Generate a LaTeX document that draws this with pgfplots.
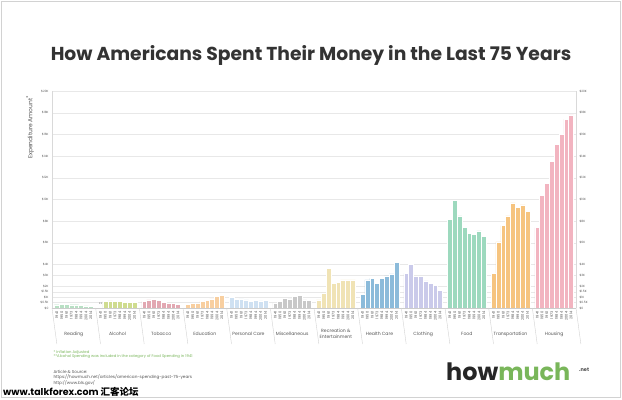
\documentclass[border=0pt]{standalone}
\usepackage{fontspec}
\setmainfont{Poppins}
\newfontfamily\cjk{Noto Sans CJK SC}
\usepackage{pgfplots}
\pgfplotsset{compat=1.18}
\definecolor{cReading}{HTML}{B8E0C4}
\definecolor{cAlcohol}{HTML}{CFDC8F}
\definecolor{cTobacco}{HTML}{E2A8B2}
\definecolor{cEducation}{HTML}{F8CFA0}
\definecolor{cPersonal}{HTML}{CFE1F2}
\definecolor{cMisc}{HTML}{C8C8C8}
\definecolor{cRec}{HTML}{F0E3B5}
\definecolor{cHealth}{HTML}{8CBBDA}
\definecolor{cClothing}{HTML}{CACAEA}
\definecolor{cFood}{HTML}{9DD9BE}
\definecolor{cTrans}{HTML}{F6C47F}
\definecolor{cHousing}{HTML}{F2B4C0}
\definecolor{txt}{HTML}{555555}
\definecolor{hmgreen}{HTML}{79B65A}
\begin{document}
\begin{tikzpicture}[x=1bp,y=1bp]
\useasboundingbox (0,0) rectangle (622,399);
\fill[white] (0,0) rectangle (622,399);
\draw[gray!35] (1.5,1.5) rectangle (620.5,397.5);
\node[font=\fontsize{18.8}{18.8}\selectfont\bfseries, text=black!80] at (311,344) {How Americans Spent Their Money in the Last 75 Years};
\node[rotate=90, anchor=east, font=\fontsize{6}{6}\selectfont, text=txt] at (30,307) {Expenditure Amount\textsuperscript{*}};
\begin{axis}[
  at={(52bp,91bp)}, anchor=south west, scale only axis,
  width=524bp, height=217bp,
  xmin=-1, xmax=107, ymin=0, ymax=20,
  axis line style={draw=none},
  major tick length=0pt,
  ytick={0,0.5,1,1.5,2,3,4,6,8,10,12,14,16,18,20},
  yticklabels={\$0,\$0.5K,\$1K,\$1.5K,\$2K,\$3K,\$4K,\$6K,\$8K,\$10K,\$12K,\$14K,\$16K,\$18K,\$20K},
  yticklabel style={font=\fontsize{3}{3}\selectfont, text=txt},
  ymajorgrids, grid style={gray!18, line width=0.4pt},
  xtick={0,...,106},
  xticklabels={1941,1950,1961,1973,1984,1994,2004,2014,,
               1941,1950,1961,1973,1984,1994,2004,2014,,
               1941,1950,1961,1973,1984,1994,2004,2014,,
               1941,1950,1961,1973,1984,1994,2004,2014,,
               1941,1950,1961,1973,1984,1994,2004,2014,,
               1941,1950,1961,1973,1984,1994,2004,2014,,
               1941,1950,1961,1973,1984,1994,2004,2014,,
               1941,1950,1961,1973,1984,1994,2004,2014,,
               1941,1950,1961,1973,1984,1994,2004,2014,,
               1941,1950,1961,1973,1984,1994,2004,2014,,
               1941,1950,1961,1973,1984,1994,2004,2014,,
               1941,1950,1961,1973,1984,1994,2004,2014},
  xticklabel style={rotate=90, anchor=east, font=\fontsize{3.6}{3.6}\selectfont, text=txt},
  clip=false,
]
\addplot[ybar, bar width=1, bar shift=0pt, draw=white, line width=0.5pt, fill=cReading] coordinates {(0,0.3)(1,0.35)(2,0.35)(3,0.3)(4,0.3)(5,0.25)(6,0.2)(7,0.15)};
\addplot[ybar, bar width=1, bar shift=0pt, draw=white, line width=0.5pt, fill=cAlcohol] coordinates {(10,0.6)(11,0.65)(12,0.6)(13,0.6)(14,0.55)(15,0.5)(16,0.55)};
\addplot[ybar, bar width=1, bar shift=0pt, draw=white, line width=0.5pt, fill=cTobacco] coordinates {(18,0.6)(19,0.75)(20,0.8)(21,0.7)(22,0.55)(23,0.45)(24,0.45)(25,0.35)};
\addplot[ybar, bar width=1, bar shift=0pt, draw=white, line width=0.5pt, fill=cEducation] coordinates {(27,0.35)(28,0.4)(29,0.45)(30,0.6)(31,0.7)(32,0.85)(33,1.05)(34,1.15)};
\addplot[ybar, bar width=1, bar shift=0pt, draw=white, line width=0.5pt, fill=cPersonal] coordinates {(36,1.0)(37,0.8)(38,0.85)(39,0.75)(40,0.6)(41,0.7)(42,0.65)(43,0.7)};
\addplot[ybar, bar width=1, bar shift=0pt, draw=white, line width=0.5pt, fill=cMisc] coordinates {(45,0.45)(46,0.6)(47,0.9)(48,0.85)(49,1.1)(50,1.15)(51,0.75)(52,0.7)};
\addplot[ybar, bar width=1, bar shift=0pt, draw=white, line width=0.5pt, fill=cRec] coordinates {(54,0.75)(55,1.4)(56,3.65)(57,2.3)(58,2.35)(59,2.6)(60,2.6)(61,2.6)};
\addplot[ybar, bar width=1, bar shift=0pt, draw=white, line width=0.5pt, fill=cHealth] coordinates {(63,1.25)(64,2.6)(65,2.75)(66,2.3)(67,2.7)(68,2.95)(69,3.15)(70,4.2)};
\addplot[ybar, bar width=1, bar shift=0pt, draw=white, line width=0.5pt, fill=cClothing] coordinates {(72,3.2)(73,4.05)(74,2.9)(75,2.9)(76,2.5)(77,2.3)(78,2.1)(79,1.65)};
\addplot[ybar, bar width=1, bar shift=0pt, draw=white, line width=0.5pt, fill=cFood] coordinates {(81,8.2)(82,9.9)(83,8.5)(84,7.4)(85,6.9)(86,6.8)(87,7.1)(88,6.6)};
\addplot[ybar, bar width=1, bar shift=0pt, draw=white, line width=0.5pt, fill=cTrans] coordinates {(90,3.2)(91,6.1)(92,7.6)(93,8.5)(94,9.7)(95,9.3)(96,9.5)(97,8.9)};
\addplot[ybar, bar width=1, bar shift=0pt, draw=white, line width=0.5pt, fill=cHousing] coordinates {(99,7.4)(100,10.4)(101,11.5)(102,13.5)(103,15.1)(104,16.0)(105,17.4)(106,17.8)};
\draw[gray!30] (axis cs:-1,0) -- (axis cs:-1,20);
\draw[gray!30] (axis cs:107,0) -- (axis cs:107,20);
\draw[gray!40] (axis cs:-1,0) -- (axis cs:107,0);
\pgfplotsinvokeforeach{-1,8,17,26,35,44,53,62,71,80,89,98,107}{\draw[gray!35] (axis cs:#1,0) -- ++(0,-36bp);}
\node[font=\fontsize{3.5}{3.5}\selectfont, text=txt] at (axis cs:9,0.35) {**};
\node[font=\fontsize{4.6}{4.6}\selectfont, text=txt] at (axis cs:3.5,0) [yshift=-26bp] {Reading};
\node[font=\fontsize{4.6}{4.6}\selectfont, text=txt] at (axis cs:12.5,0) [yshift=-26bp] {Alcohol};
\node[font=\fontsize{4.6}{4.6}\selectfont, text=txt] at (axis cs:21.5,0) [yshift=-26bp] {Tobacco};
\node[font=\fontsize{4.6}{4.6}\selectfont, text=txt] at (axis cs:30.5,0) [yshift=-26bp] {Education};
\node[font=\fontsize{4.6}{4.6}\selectfont, text=txt] at (axis cs:39.5,0) [yshift=-26bp] {Personal Care};
\node[font=\fontsize{4.6}{4.6}\selectfont, text=txt] at (axis cs:48.5,0) [yshift=-26bp] {Miscellaneous};
\node[font=\fontsize{4.6}{5.6}\selectfont, text=txt, align=center] at (axis cs:57.5,0) [yshift=-26bp] {Recreation \&\\Entertainment};
\node[font=\fontsize{4.6}{4.6}\selectfont, text=txt] at (axis cs:66.5,0) [yshift=-26bp] {Health Care};
\node[font=\fontsize{4.6}{4.6}\selectfont, text=txt] at (axis cs:75.5,0) [yshift=-26bp] {Clothing};
\node[font=\fontsize{4.6}{4.6}\selectfont, text=txt] at (axis cs:84.5,0) [yshift=-26bp] {Food};
\node[font=\fontsize{4.6}{4.6}\selectfont, text=txt] at (axis cs:93.5,0) [yshift=-26bp] {Transportation};
\node[font=\fontsize{4.6}{4.6}\selectfont, text=txt] at (axis cs:102.5,0) [yshift=-26bp] {Housing};
\end{axis}
\begin{axis}[
  at={(52bp,91bp)}, anchor=south west, scale only axis,
  width=524bp, height=217bp,
  xmin=-1, xmax=107, ymin=0, ymax=20,
  hide x axis, axis y line*=right,
  axis line style={draw=none},
  major tick length=0pt,
  ytick={0,0.5,1,1.5,2,3,4,6,8,10,12,14,16,18,20},
  yticklabels={\$0,\$0.5K,\$1K,\$1.5K,\$2K,\$3K,\$4K,\$6K,\$8K,\$10K,\$12K,\$14K,\$16K,\$18K,\$20K},
  yticklabel style={font=\fontsize{3}{3}\selectfont, text=txt},
]
\addplot[draw=none] coordinates {(0,0)};
\end{axis}
\node[anchor=west, font=\fontsize{3.8}{3.8}\selectfont, text=hmgreen] at (50,46) {* Inflation Adjusted};
\node[anchor=west, font=\fontsize{3.8}{3.8}\selectfont, text=hmgreen] at (50,42) {**Alcohol Spending was included in the category of Food Spending in 1941};
\node[anchor=west, font=\fontsize{4.2}{4.2}\selectfont, text=txt] at (50,27.5) {Article \& Source:};
\node[anchor=west, font=\fontsize{4.2}{4.2}\selectfont, text=txt] at (50,21.5) {https://howmuch.net/articles/american-spending-past-75-years};
\node[anchor=west, font=\fontsize{4.2}{4.2}\selectfont, text=txt] at (50,16) {http://www.bls.gov/};
\node[anchor=west, font=\fontsize{9.5}{9.5}\selectfont\bfseries, text=black, inner sep=0pt] at (3,7.5) {www.talkforex.com {\cjk 汇客论坛}};
\node[anchor=base west, font=\fontsize{24}{24}\selectfont\bfseries, inner sep=0pt] at (446,19) {\textcolor{black!85}{how}\textcolor{hmgreen}{much}};
\node[anchor=base west, font=\fontsize{5}{5}\selectfont\bfseries, text=black!70, inner sep=0pt] at (579,28) {.net};
\end{tikzpicture}
\end{document}
